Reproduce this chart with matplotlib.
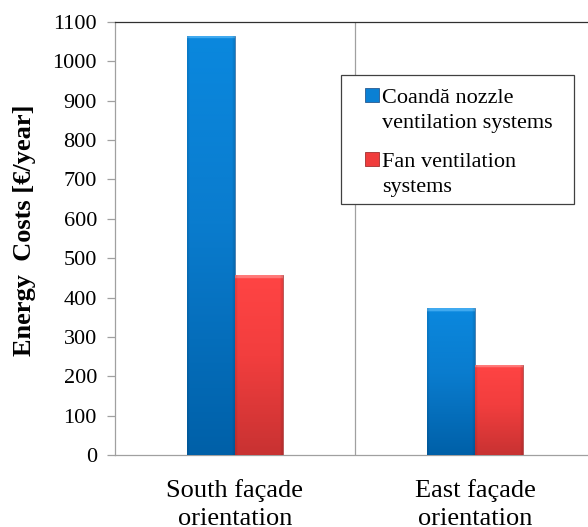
import numpy as np
import matplotlib
matplotlib.use("Agg")
from matplotlib import pyplot as plt
from matplotlib.colors import LinearSegmentedColormap
from matplotlib.patches import Rectangle

plt.rcParams["font.family"] = ["Liberation Serif", "DejaVu Serif"]

# data
categories = ["South façade\norientation", "East façade\norientation"]
coanda_costs = [1065, 373]
fan_costs = [457, 229]
series_names = ["Coandă nozzle\nventilation systems", "Fan ventilation\nsystems"]
yticks = list(range(0, 1101, 100))

W, H = 588, 527
fig = plt.figure(figsize=(W / 100, H / 100), dpi=100)
# right edge of the plot area sits just outside the picture, as in the reference
ax = fig.add_axes([115 / W, (H - 455) / H, (595 - 115) / W, (455 - 22) / H])

x = np.arange(len(categories))
bw = 0.2
blue_bars = ax.bar(x - bw / 2, coanda_costs, bw, color="#0a80d4", edgecolor="#4a7aa8", lw=0.6, zorder=3)
red_bars = ax.bar(x + bw / 2, fan_costs, bw, color="#f03c3c", edgecolor="#b05050", lw=0.6, zorder=3)

px_per_unit = (455 - 22) / 1100.0


def shade(bars, top, mid, bottom, bevel):
    cmap = LinearSegmentedColormap.from_list("g", [(0, bottom), (0.55, mid), (1, top)])
    for b in bars:
        bx, by = b.get_x(), b.get_y()
        bwid, bh = b.get_width(), b.get_height()
        n = 400
        grad = np.linspace(0, 1, n)[:, None]
        # light strip on the top few pixels
        frac = 3.0 / (bh * px_per_unit)
        rows = np.linspace(0, 1, n) > 1 - frac
        img = cmap(grad)
        img[rows, 0, :3] = matplotlib.colors.to_rgb(bevel)
        img = np.repeat(img, 24, axis=1)
        # slightly darker at the left/right edges
        edge = np.ones(24)
        edge[0] = edge[-1] = 0.9
        img[:, :, :3] *= edge[None, :, None]
        im = ax.imshow(img, extent=[bx, bx + bwid, by, by + bh], origin="lower",
                       aspect="auto", zorder=3.5, interpolation="bilinear")
        im.set_clip_path(b)


shade(blue_bars, "#0a88de", "#0a7cce", "#0060a8", "#40aaf0")
shade(red_bars, "#ff4444", "#f23e3e", "#c83232", "#ff7a7a")

ax.set_xlim(-0.5, 1.5)
ax.set_ylim(0, 1100)
ax.set_yticks(yticks)
ax.set_yticklabels([str(v) for v in yticks])
ax.set_xticks(x)
ax.set_xticklabels(categories, linespacing=1.4)
ax.axvline(0.5, color="#a0a0a0", lw=0.9, zorder=1)

ax.tick_params(axis="y", length=6, width=0.9, color="#a0a0a0", pad=7, labelsize=16)
ax.tick_params(axis="x", length=0, pad=17, labelsize=19)
for side in ["left", "bottom"]:
    ax.spines[side].set_color("#a0a0a0")
    ax.spines[side].set_linewidth(0.9)
ax.spines["top"].set_color("#303030")
ax.spines["top"].set_linewidth(0.9)
ax.spines["right"].set_visible(False)

ax.set_ylabel("Energy  Costs [€/year]", fontsize=19, fontweight="bold")
ax.yaxis.set_label_coords(-0.165, 0.52)


# legend drawn by hand so each square sits on the first line of its label
def fx(px):
    return px / W


def fy(py):
    return 1 - py / H


fig.patches.append(Rectangle((fx(341), fy(204)), fx(574) - fx(341), fy(75) - fy(204),
                             transform=fig.transFigure, fill=True, facecolor="white",
                             edgecolor="#404040", lw=0.9, zorder=5))
legend_rows = [(103, "#0a80d4", "#2a5a90"), (167, "#f03c3c", "#a03030")]
for (base, col, ec), name in zip(legend_rows, series_names):
    fig.patches.append(Rectangle((fx(365), fy(base - 1)), fx(379) - fx(365), fy(base - 15) - fy(base - 1),
                                 transform=fig.transFigure, facecolor=col, edgecolor=ec,
                                 lw=0.6, zorder=6))
    for i, line in enumerate(name.split("\n")):
        fig.text(fx(382), fy(base + 25 * i), line, fontsize=16, va="baseline",
                 ha="left", zorder=7)

fig.savefig("out.png", dpi=100)
